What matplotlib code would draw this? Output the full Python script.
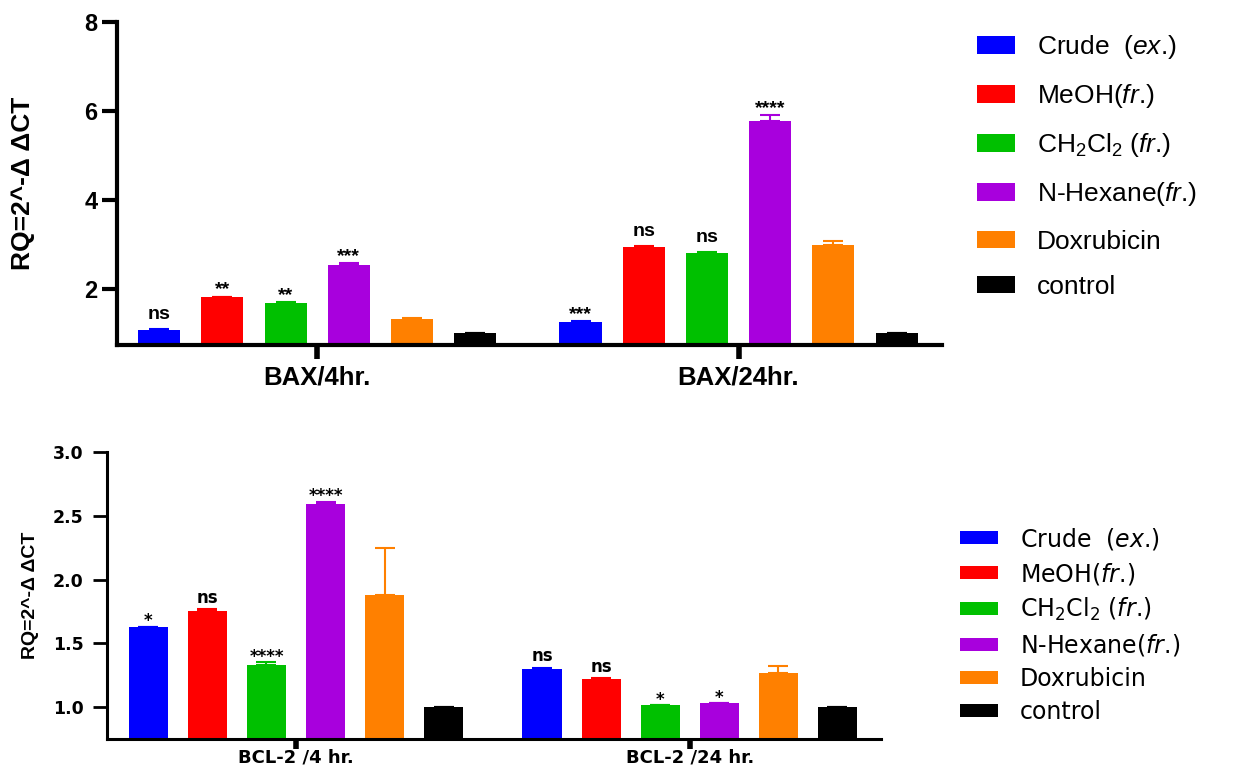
import numpy as np
import matplotlib
matplotlib.use("Agg")
import matplotlib.pyplot as plt
from matplotlib.font_manager import FontProperties

matplotlib.rcParams.update({'mathtext.fontset': 'custom',
                            'mathtext.rm': 'Liberation Sans',
                            'mathtext.it': 'Liberation Sans:italic',
                            'mathtext.bf': 'Liberation Sans:bold'})

series = ["Crude  ($\\mathit{ex}$.)", "MeOH($\\mathit{fr}$.)", "CH$_2$Cl$_2$ ($\\mathit{fr}$.)",
          "N-Hexane($\\mathit{fr}$.)", "Doxrubicin", "control"]
colors = ["#0000FF", "#FF0000", "#00C000", "#A800DD", "#FF8000", "#000000"]

# BAX panel: one row per series, one column per group
bax_groups = ["BAX/4hr.", "BAX/24hr."]
bax_means = [[1.08, 1.26], [1.82, 2.95], [1.69, 2.81], [2.54, 5.78], [1.33, 2.99], [1.0, 1.0]]
bax_err = [[0.03, 0.02], [0.01, 0.02], [0.01, 0.02], [0.05, 0.12], [0.02, 0.09], [0.0, 0.0]]
bax_sig = [["ns", "***"], ["**", "ns"], ["**", "ns"], ["***", "****"], ["", ""], ["", ""]]

# BCL-2 panel
bcl_groups = ["BCL-2 /4 hr.", "BCL-2 /24 hr."]
bcl_means = [[1.63, 1.30], [1.75, 1.22], [1.33, 1.015], [2.59, 1.03], [1.88, 1.27], [1.0, 1.0]]
bcl_err = [[0.0, 0.01], [0.02, 0.01], [0.02, 0.0], [0.02, 0.0], [0.37, 0.05], [0.0, 0.0]]
bcl_sig = [["*", "ns"], ["ns", "ns"], ["****", "*"], ["****", "*"], ["", ""], ["", ""]]

ylabel = "RQ=2^-\u0394 \u0394CT"


def draw_panel(ax, groups, means, errs, sigs, font, sig_size, ns_off, star_off):
    x = np.arange(len(groups))
    step, width = 0.15, 0.1
    for i in range(len(means)):
        xi = x + (i - 2.5) * step
        m = np.array(means[i])
        e = np.array(errs[i])
        ax.bar(xi, m, width, color=colors[i], label=series[i], zorder=2)
        ax.errorbar(xi, m, yerr=[np.zeros_like(e), e], fmt='none', ecolor=colors[i],
                    elinewidth=1.5, capsize=7, capthick=1.5, zorder=3)
        for j in range(len(groups)):
            s = sigs[i][j]
            if not s:
                continue
            off = ns_off if s == "ns" else star_off
            ax.annotate(s, (xi[j], m[j] + e[j]), xytext=(0, off), textcoords='offset points',
                        ha='center', va='baseline', fontsize=sig_size, fontweight='bold',
                        family=font)
    for sp in ['top', 'right']:
        ax.spines[sp].set_visible(False)
    return x


fig = plt.figure(figsize=(12.4, 7.71), dpi=100)

# top panel
ax1 = fig.add_axes([0.0944, 0.5525, 0.665, 0.419])
x1 = draw_panel(ax1, bax_groups, bax_means, bax_err, bax_sig, 'Liberation Sans', 14, 7, 1.5)
ax1.set_xlim(-0.475, 1.482)
ax1.set_ylim(0.74, 8)
ax1.set_xticks(x1, bax_groups, fontproperties=FontProperties(family='Liberation Sans', weight='bold', size=18.5))
ax1.set_yticks([2, 4, 6, 8], ["2", "4", "6", "8"],
               fontproperties=FontProperties(family='Liberation Sans', weight='bold', size=17))
for sp in ['left', 'bottom']:
    ax1.spines[sp].set_linewidth(3)
ax1.tick_params(axis='y', length=11, width=3, pad=3)
ax1.tick_params(axis='x', length=10, width=4, pad=5)
ax1.set_ylabel(ylabel, family='Liberation Sans', fontweight='bold', fontsize=19)
ax1.yaxis.set_label_coords(-0.1, 0.5)
ax1.legend(loc='upper left', bbox_to_anchor=(0.788, 0.957), bbox_transform=fig.transFigure,
           frameon=False, borderpad=0, borderaxespad=0, handlelength=1.42, handleheight=0.64,
           handletextpad=0.84, labelspacing=0.8,
           prop=FontProperties(family='Liberation Sans', size=19, math_fontfamily='custom'))

# bottom panel
ax2 = fig.add_axes([0.0863, 0.0415, 0.624, 0.3722])
x2 = draw_panel(ax2, bcl_groups, bcl_means, bcl_err, bcl_sig, 'DejaVu Sans', 12, 4.5, 0.5)
ax2.set_xlim(-0.48, 1.485)
ax2.set_ylim(0.75, 3.0)
ax2.set_xticks(x2, bcl_groups, fontproperties=FontProperties(family='DejaVu Sans', weight='bold', size=13))
ax2.set_yticks([1.0, 1.5, 2.0, 2.5, 3.0], ["1.0", "1.5", "2.0", "2.5", "3.0"],
               fontproperties=FontProperties(family='DejaVu Sans', weight='bold', size=12.5))
for sp in ['left', 'bottom']:
    ax2.spines[sp].set_linewidth(2.2)
ax2.tick_params(axis='y', length=10, width=2, pad=7)
ax2.tick_params(axis='x', length=7, width=4, pad=0)
ax2.set_ylabel(ylabel, family='Liberation Sans', fontweight='bold', fontsize=14)
ax2.yaxis.set_label_coords(-0.088, 0.5)
ax2.legend(loc='upper left', bbox_to_anchor=(0.774, 0.318), bbox_transform=fig.transFigure,
           frameon=False, borderpad=0, borderaxespad=0, handlelength=1.6, handleheight=0.47,
           handletextpad=0.95, labelspacing=0.38,
           prop=FontProperties(family='DejaVu Sans', size=17, math_fontfamily='dejavusans'))

plt.savefig("out.png", dpi=100)
